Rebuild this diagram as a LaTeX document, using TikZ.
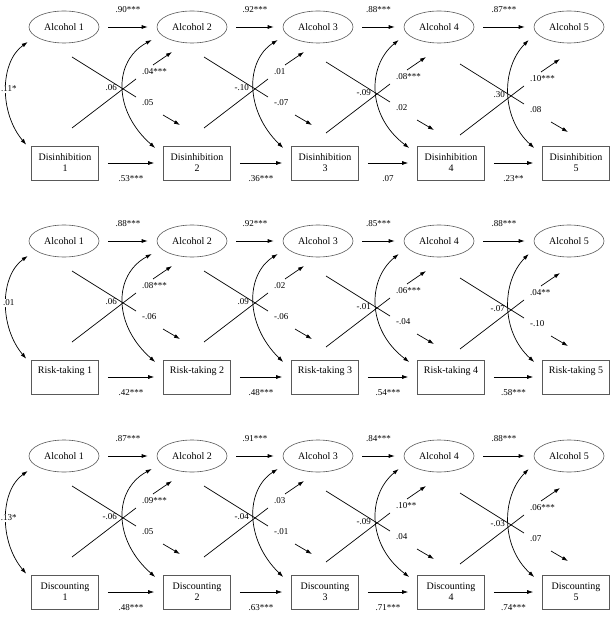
\documentclass[tikz,border=0pt]{standalone}
\usepackage{fontspec}
\setmainfont{Liberation Serif}
\usetikzlibrary{arrows.meta, shapes.geometric, calc}

% one panel: #1 vertical offset, #2 text of the lower boxes, #3 wave-1 correlation, #4 lag labels
\newcommand{\lagpanel}[4]{%
    \begin{scope}[shift={(0,#1)}]
        \foreach \i/\ax/\bx in {1/64/65,2/192/197,3/318/325,4/439/451,5/569/576} {
            \node[alc] (A\i) at (\ax,27) {Alcohol \i};
            \node[beh] (B\i) at (\bx,163) {#2};
        }
        \foreach \i/\cx/\cy in {1/123/88,2/255/88,3/377/93,4/511/95}
            \coordinate (X\i) at (\cx,\cy);

        \draw[corr] ($(A1.west)+(-1,15)$) .. controls +(-28,20) and +(-27,-32) .. ($(B1.north west)+(-5,-1)$) node[lab, midway, fill=white, inner sep=1pt, xshift=2.5pt] {#3};

        \foreach \i/\j/\al/\bl/\xl/\ul/\dl in {#4} {
            \draw[arr, lag] (A\i) -- node[lab, above=14pt] {\al} (A\j);
            \draw[arr, lag] (B\i) -- node[lab, below=12pt] {\bl} (B\j);

            \draw[corr] ($(A\j.west)+(-5,13)$) .. controls ($(X\i)+(-10,-27)$) and ($(X\i)+(-10,23)$) .. ($(B\j.west)+(-8,-15)$);
            \node[lab, anchor=east] at ($(X\i)+(-6,0)$) {\xl};

            \draw[line width=0.7pt] ($(X\i)+(-51,-31)$) -- ($(X\i)+(13,9)$);
            \draw[arr] ($(X\i)+(40,27)$) -- ($(X\i)+(57,37)$);
            \node[lab, anchor=west] at ($(X\i)+(19,15)$) {\dl};

            \draw[line width=0.7pt] ($(X\i)+(-51,40)$) -- ($(X\i)+(13,-9)$);
            \draw[arr] ($(X\i)+(30,-23)$) -- ($(X\i)+(49,-36)$);
            \node[lab, anchor=west] at ($(X\i)+(19,-16)$) {\ul};
        }
    \end{scope}
}

\begin{document}
\begin{tikzpicture}[x=1pt, y=-1pt,
    alc/.style = {draw=black!65, line width=0.6pt, ellipse, minimum width=70pt, minimum height=32pt, inner sep=0pt, font=\fontsize{10}{11}\selectfont},
    beh/.style = {draw=black!65, line width=0.6pt, rectangle, minimum width=67pt, minimum height=34pt, inner sep=1pt, align=center, font=\fontsize{10}{11}\selectfont},
    lab/.style = {inner sep=0pt, font=\fontsize{9}{10}\selectfont},
    arr/.style = {-{Latex[length=6pt, width=4pt]}, line width=0.7pt},
    corr/.style = {{Latex[length=6pt, width=4pt]}-{Latex[length=6pt, width=4pt]}, line width=0.7pt},
    lag/.style = {shorten <=9pt, shorten >=9pt}]
    \useasboundingbox (0,0) rectangle (610,617);

    \lagpanel{0}{Disinhibition\\\i}{.11*}{1/2/.90***/.53***/.06/.04***/.05,2/3/.92***/.36***/-.10/.01/-.07,3/4/.88***/.07/-.09/.08***/.02,4/5/.87***/.23**/.30/.10***/.08}

    \lagpanel{214}{Risk-taking \i\\\strut}{.01}{1/2/.88***/.42***/.06/.08***/-.06,2/3/.92***/.48***/.09/.02/-.06,3/4/.85***/.54***/-.01/.06***/-.04,4/5/.88***/.58***/-.07/.04**/-.10}

    \lagpanel{429}{Discounting\\\i}{.13*}{1/2/.87***/.48***/-.06/.09***/.05,2/3/.91***/.63***/-.04/.03/-.01,3/4/.84***/.71***/-.09/.10**/.04,4/5/.88***/.74***/-.03/.06***/.07}
\end{tikzpicture}
\end{document}
